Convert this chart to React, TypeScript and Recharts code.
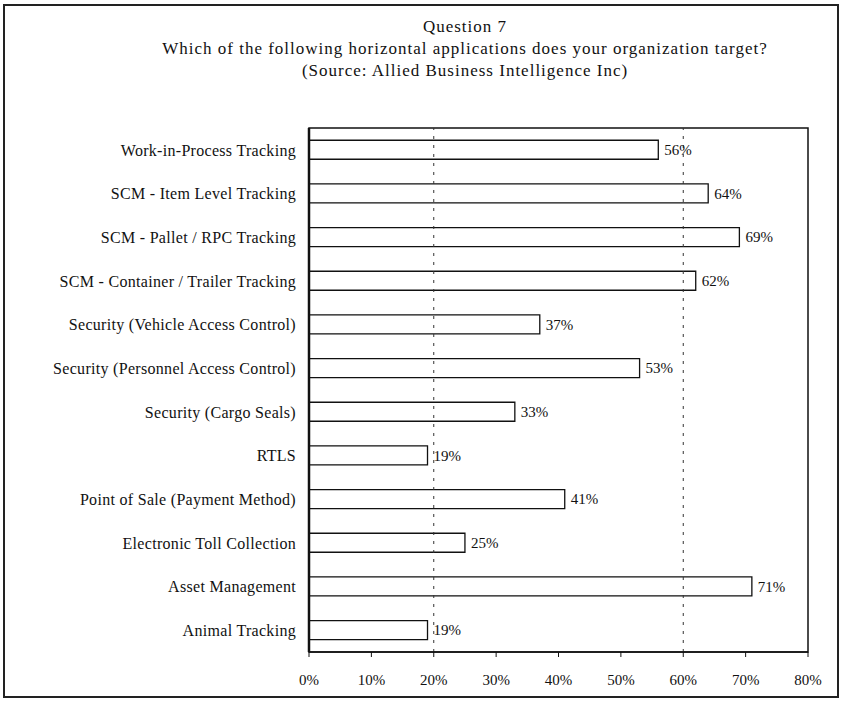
import {
  BarChart,
  Bar,
  XAxis,
  YAxis,
  LabelList,
  ReferenceLine,
  ReferenceArea,
} from "recharts"

const categories = [
  "Work-in-Process Tracking",
  "SCM - Item Level Tracking",
  "SCM - Pallet / RPC Tracking",
  "SCM - Container / Trailer Tracking",
  "Security (Vehicle Access Control)",
  "Security (Personnel Access Control)",
  "Security (Cargo Seals)",
  "RTLS",
  "Point of Sale (Payment Method)",
  "Electronic Toll Collection",
  "Asset Management",
  "Animal Tracking",
]

const shares = [56, 64, 69, 62, 37, 53, 33, 19, 41, 25, 71, 19]

const xTicks = [0, 10, 20, 30, 40, 50, 60, 70, 80]
const gridAt = [20, 60]

const titleLines = [
  "Question 7",
  "Which of the following horizontal applications does your organization target?",
  "(Source: Allied Business Intelligence Inc)",
]

const font = "'Liberation Serif', 'DejaVu Serif', serif"

const App = () => {
  const data = categories.map((name, i) => ({ name, value: shares[i] }))

  return (
    <div
      style={{
        position: "absolute",
        left: 0,
        top: 0,
        width: 848,
        height: 706,
        background: "#fff",
        fontFamily: font,
      }}
    >
      <div
        style={{
          position: "absolute",
          left: 3,
          top: 4,
          width: 836,
          height: 694,
          border: "2px solid #222",
          boxSizing: "border-box",
        }}
      />
      <div
        style={{
          position: "absolute",
          left: 0,
          top: 16,
          width: 930,
          textAlign: "center",
          fontSize: 17,
          letterSpacing: 1,
          lineHeight: "22px",
          color: "#111",
        }}
      >
        {titleLines.map((t) => (
          <div key={t}>{t}</div>
        ))}
      </div>
      <div style={{ position: "absolute", left: 0, top: 0 }}>
        <BarChart
          width={848}
          height={706}
          layout="vertical"
          data={data}
          barCategoryGap="28%"
          margin={{ top: 128, right: 40, bottom: 14, left: 0 }}
        >
          <XAxis
            type="number"
            domain={[0, 80]}
            ticks={xTicks}
            interval={0}
            height={40}
            tickFormatter={(v: number) => `${v}%`}
            axisLine={{ stroke: "#111", strokeWidth: 1.5 }}
            tickLine={{ stroke: "#111" }}
            tickSize={5}
            tickMargin={17}
            tick={{ fill: "#111", fontSize: 15, fontFamily: font }}
          />
          <YAxis
            type="category"
            dataKey="name"
            width={309}
            axisLine={{ stroke: "#111", strokeWidth: 2.5 }}
            tickLine={false}
            tickMargin={7}
            interval={0}
            tick={{ fill: "#111", fontSize: 16, fontFamily: font, letterSpacing: 0.3 }}
          />
          <ReferenceArea
            x1={0}
            x2={80}
            fill="none"
            stroke="#111"
            strokeWidth={1.5}
            ifOverflow="visible"
          />
          {gridAt.map((g) => (
            <ReferenceLine
              key={g}
              x={g}
              stroke="#333"
              strokeDasharray="3 6"
              strokeWidth={1}
            />
          ))}
          <Bar
            dataKey="value"
            fill="#fff"
            stroke="#111"
            strokeWidth={1.3}
            isAnimationActive={false}
          >
            <LabelList
              dataKey="value"
              position="right"
              offset={6}
              formatter={(v: number) => `${v}%`}
              fill="#111"
              fontSize={15}
              fontFamily={font}
            />
          </Bar>
        </BarChart>
      </div>
    </div>
  )
}

export default App
